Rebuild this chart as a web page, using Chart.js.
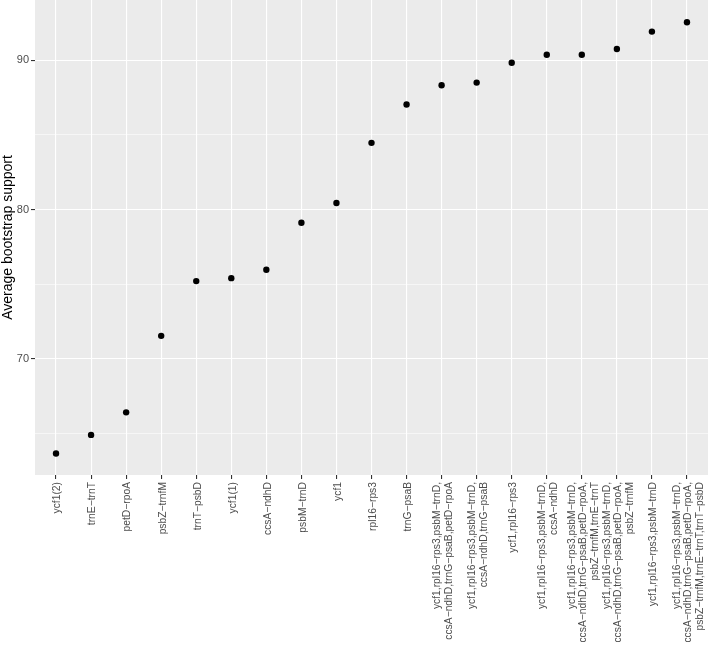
<!DOCTYPE html>
<html>
<head>
<meta charset="utf-8">
<script src="https://cdn.jsdelivr.net/npm/chart.js@4.4.1/dist/chart.umd.min.js"></script>
<style>
  html, body { margin: 0; padding: 0; background: #fff; }
  #wrap { width: 709px; height: 648px; }
</style>
</head>
<body>
<div id="wrap"><canvas id="graph_boot"></canvas></div>
<script>
/*------------------------------*/
/*        data                  */
/*------------------------------*/
var regions = [
  ['ycf1(2)'],
  ['trnE\u2212trnT'],
  ['petD\u2212rpoA'],
  ['psbZ\u2212trnfM'],
  ['trnT\u2212psbD'],
  ['ycf1(1)'],
  ['ccsA\u2212ndhD'],
  ['psbM\u2212trnD'],
  ['ycf1'],
  ['rpl16\u2212rps3'],
  ['trnG\u2212psaB'],
  ['ycf1,rpl16\u2212rps3,psbM\u2212trnD,', 'ccsA\u2212ndhD,trnG\u2212psaB,petD\u2212rpoA'],
  ['ycf1,rpl16\u2212rps3,psbM\u2212trnD,', 'ccsA\u2212ndhD,trnG\u2212psaB'],
  ['ycf1,rpl16\u2212rps3'],
  ['ycf1,rpl16\u2212rps3,psbM\u2212trnD,', 'ccsA\u2212ndhD'],
  ['ycf1,rpl16\u2212rps3,psbM\u2212trnD,', 'ccsA\u2212ndhD,trnG\u2212psaB,petD\u2212rpoA,', 'psbZ\u2212trnfM,trnE\u2212trnT'],
  ['ycf1,rpl16\u2212rps3,psbM\u2212trnD,', 'ccsA\u2212ndhD,trnG\u2212psaB,petD\u2212rpoA,', 'psbZ\u2212trnfM'],
  ['ycf1,rpl16\u2212rps3,psbM\u2212trnD'],
  ['ycf1,rpl16\u2212rps3,psbM\u2212trnD,', 'ccsA\u2212ndhD,trnG\u2212psaB,petD\u2212rpoA,', 'psbZ\u2212trnfM,trnE\u2212trnT,trnT\u2212psbD']
]
var support = [63.64, 64.89, 66.4, 71.53, 75.2, 75.4, 75.96, 79.11, 80.44, 84.47,
               87.04, 88.33, 88.51, 89.84, 90.38, 90.38, 90.76, 91.93, 92.56]
var yTicks = [70, 80, 90]

/*------------------------------*/
/*        graph                 */
/*------------------------------*/
var ctx_boot = document.getElementById('graph_boot').getContext('2d')

var points = support.map(function (v, i) { return { x: i + 1, y: v } })

// grey ggplot panel
var panelBg = {
  id: 'panelBg',
  beforeDraw: function (chart) {
    var a = chart.chartArea, c = chart.ctx
    c.save()
    c.fillStyle = '#EBEBEB'
    c.fillRect(a.left, a.top, a.right - a.left, a.bottom - a.top)
    c.restore()
  }
}

// rotated multi-line category labels, centred on each tick
var xLabels = {
  id: 'xLabels',
  afterDraw: function (chart) {
    var sx = chart.scales.x, c = chart.ctx
    var top = chart.chartArea.bottom + 7
    var lh = 11.5
    c.save()
    c.fillStyle = '#4D4D4D'
    c.font = '10.3px "Liberation Sans", Arial, sans-serif'
    c.textAlign = 'right'
    c.textBaseline = 'middle'
    regions.forEach(function (lines, i) {
      var px = sx.getPixelForValue(i + 1)
      c.save()
      c.translate(px + 1.5, top)
      c.rotate(-Math.PI / 2)
      lines.forEach(function (txt, j) {
        c.fillText(txt, 0, (j - (lines.length - 1) / 2) * lh)
      })
      c.restore()
    })
    c.restore()
  }
}

function noPad(s) {
  s.paddingTop = 0
  s.paddingBottom = 0
  s.paddingLeft = 0
  s.paddingRight = 0
}

var data_boot = {
  datasets: [
    {
      label: 'Average bootstrap support',
      data: points,
      showLine: false,
      pointRadius: 3.2,
      pointHoverRadius: 3.2,
      pointBackgroundColor: '#000',
      pointBorderWidth: 0,
      borderColor: '#000',
      backgroundColor: '#000'
    }
  ]
}

var config_boot = {
  type: 'scatter',
  data: data_boot,
  options: {
    responsive: true,
    maintainAspectRatio: false,
    animation: false,
    layout: { autoPadding: false, padding: { top: 0, right: 1, left: 0, bottom: 0 } },
    plugins: {
      legend: { display: false },
      tooltip: { enabled: false }
    },
    scales: {
      x: {
        type: 'linear',
        min: 0.4,
        max: regions.length + 0.6,
        afterFit: function (s) { s.height = 173; noPad(s) },
        border: { display: false },
        grid: {
          color: '#FFFFFF',
          lineWidth: 1.1,
          tickColor: '#333333',
          tickLength: 4,
          tickWidth: 1.1
        },
        ticks: {
          stepSize: 1,
          includeBounds: false,
          display: false
        }
      },
      y: {
        type: 'linear',
        min: 62.2,
        max: 94.05,
        afterFit: function (s) { s.width = 35; noPad(s) },
        border: { display: false },
        title: {
          display: true,
          text: 'Average bootstrap support',
          color: '#000',
          font: { family: '"Liberation Sans", Arial, sans-serif', size: 14 },
          padding: 0
        },
        grid: {
          color: '#FFFFFF',
          lineWidth: function (c) { return c.tick && yTicks.indexOf(c.tick.value) >= 0 ? 1.1 : 0.55 },
          tickColor: function (c) { return c.tick && yTicks.indexOf(c.tick.value) >= 0 ? '#333333' : 'rgba(0,0,0,0)' },
          tickLength: 4,
          tickWidth: 1.1
        },
        ticks: {
          stepSize: 5,
          includeBounds: false,
          padding: 2,
          color: '#4D4D4D',
          font: { family: '"Liberation Sans", Arial, sans-serif', size: 11 },
          callback: function (v) { return yTicks.indexOf(v) >= 0 ? String(v) : '' }
        }
      }
    }
  },
  plugins: [panelBg, xLabels]
}
var graph_boot = new Chart(ctx_boot, config_boot)
</script>
</body>
</html>
